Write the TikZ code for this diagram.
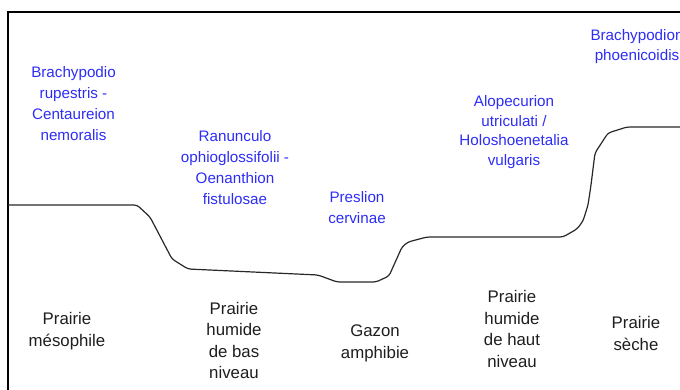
\documentclass[tikz,border=0pt]{standalone}
\usepackage{fontspec}
\setmainfont{Liberation Sans}
\definecolor{latinblue}{RGB}{45,45,245}
\definecolor{inkgray}{RGB}{30,30,30}
\definecolor{profile}{RGB}{40,40,40}
\begin{document}
\begin{tikzpicture}[x=1pt,y=-1pt,
  lbl/.style={align=center,inner sep=0pt},
  latin/.style={lbl,text=latinblue,font=\fontsize{15.2}{21}\selectfont},
  habitat/.style={lbl,text=inkgray,font=\fontsize{16.8}{21.5}\selectfont},
  frameline/.style={line width=1.3pt,black},
  profileline/.style={line width=1.2pt,profile,line join=round,rounded corners=3pt}]
\useasboundingbox (0,0) rectangle (680,390);
\clip (0,0) rectangle (680,390);
\coordinate (tr) at (690,12);
\coordinate (tl) at (8,12);
\coordinate (bl) at (8,400);
\draw[frameline] (tr) -- (tl) -- (bl);
\coordinate (p0) at (8,205);
\coordinate (p1) at (137,205);
\coordinate (p2) at (150,217);
\coordinate (p3) at (172,259);
\coordinate (p4) at (188,269);
\coordinate (p5) at (318,275);
\coordinate (p6) at (337,282);
\coordinate (p7) at (376,282);
\coordinate (p8) at (389,276);
\coordinate (p9) at (402,247);
\coordinate (p10) at (408,242);
\coordinate (p11) at (427,237);
\coordinate (p12) at (563,237);
\coordinate (p13) at (577,229);
\coordinate (p14) at (583,221);
\coordinate (p15) at (588,205);
\coordinate (p16) at (591,185);
\coordinate (p17) at (595,153);
\coordinate (p18) at (608,133);
\coordinate (p19) at (627,127);
\coordinate (p20) at (690,127);
\draw[profileline] (p0) -- (p1) -- (p2) -- (p3) -- (p4) -- (p5) -- (p6) -- (p7) -- (p8) -- (p9) -- (p10) -- (p11) -- (p12) -- (p13) -- (p14) -- (p15) -- (p16) -- (p17) -- (p18) -- (p19) -- (p20);
\node[latin] (l1) at (73.5,103.5) {Brachypodio\\rupestris -\\Centaureion\\nemoralis};
\node[latin] (l2) at (235,167.5) {Ranunculo\\ophioglossifolii -\\Oenanthion\\fistulosae};
\node[latin] (l3) at (357,207.5) {Preslion\\cervinae};
\node[latin,font=\fontsize{15.2}{19.5}\selectfont] (l4) at (514,132) {Alopecurion\\utriculati /\\Holoshoenetalia\\vulgaris};
\node[latin,font=\fontsize{15.2}{20}\selectfont] (l5) at (637,47) {Brachypodion\\phoenicoidis};
\node[habitat] (h1) at (67,331) {Prairie\\mésophile};
\node[habitat] (h2) at (234,340.5) {Prairie\\humide\\de bas\\niveau};
\node[habitat] (h3) at (375,343.5) {Gazon\\amphibie};
\node[habitat] (h4) at (512,329) {Prairie\\humide\\de haut\\niveau};
\node[habitat] (h5) at (636,333.5) {Prairie\\sèche};
\end{tikzpicture}
\end{document}
